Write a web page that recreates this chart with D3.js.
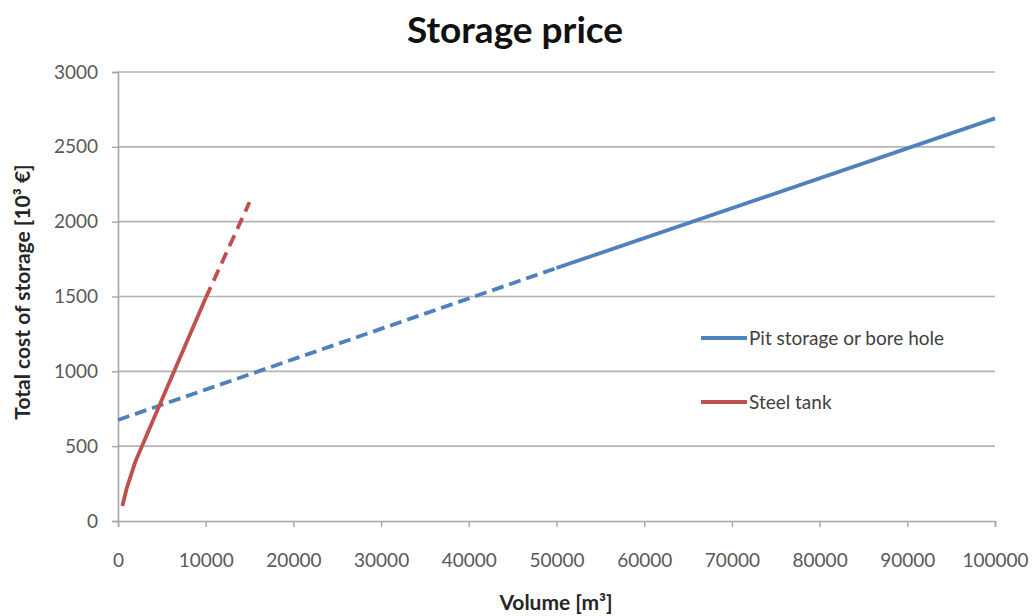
<!DOCTYPE html>
<html>
<head>
<meta charset="utf-8">
<script src="https://cdn.jsdelivr.net/npm/d3@7"></script>
<style>
  html, body { margin: 0; padding: 0; background: #fff; }
  svg { display: block; }
  svg text { font-family: "Lato", "Open Sans", sans-serif; }
</style>
</head>
<body>
<svg id="chart" width="1036" height="616"></svg>
<script>
// Storage cost (10^3 €) against storage volume (m³)
const title = "Storage price";
const xLabel = "Volume [m³]";
const yLabel = "Total cost of storage [10³ €]";

const xTicks = [0, 10000, 20000, 30000, 40000, 50000, 60000, 70000, 80000, 90000, 100000];
const yTicks = [0, 500, 1000, 1500, 2000, 2500, 3000];

const seriesNames = ["Pit storage or bore hole", "Steel tank"];
const seriesColors = ["#4f81bd", "#c0504d"];

// Pit storage / bore hole: estimated range (dashed) then solid
const pitEstimated = [[0, 675], [50000, 1690]];
const pitSolid = [[50000, 1690], [100000, 2690]];

// Steel tank: solid then extrapolated (dashed)
const tankSolid = [[500, 100], [1000, 220], [2000, 400], [5000, 810], [10000, 1490]];
const tankEstimated = [[10000, 1490], [15000, 2130]];

const svg = d3.select("#chart");
const margin = { left: 118, right: 41, top: 72, bottom: 95 };
const W = 1036, H = 616;
const FONT = "Lato, 'Open Sans', sans-serif";

const x = d3.scaleLinear().domain([0, 100000]).range([margin.left, W - margin.right]);
const y = d3.scaleLinear().domain([0, 3000]).range([H - margin.bottom, margin.top]);

// Horizontal gridlines
svg.append("g")
  .selectAll("line")
  .data(yTicks.filter(d => d > 0))
  .join("line")
  .attr("x1", x(0)).attr("x2", x(100000))
  .attr("y1", d => y(d)).attr("y2", d => y(d))
  .attr("stroke", "#b4b4b4").attr("stroke-width", 1.6);

// Y axis
const yAxis = svg.append("g")
  .attr("transform", `translate(${x(0)},0)`)
  .call(d3.axisLeft(y).tickValues(yTicks).tickSize(6).tickPadding(14).tickFormat(d3.format("d")))
  .attr("font-family", FONT);
yAxis.select(".domain").attr("stroke", "#a6a6a6").attr("stroke-width", 1.6);
yAxis.selectAll(".tick line").attr("stroke", "#a6a6a6").attr("stroke-width", 1.4);
yAxis.selectAll(".tick text").attr("fill", "#595959").style("font-size", "19px");

// X axis
const xAxis = svg.append("g")
  .attr("transform", `translate(0,${y(0)})`)
  .call(d3.axisBottom(x).tickValues(xTicks).tickSize(6).tickPadding(27).tickFormat(d3.format("d")))
  .attr("font-family", FONT);
xAxis.select(".domain").attr("stroke", "#a6a6a6").attr("stroke-width", 1.6);
xAxis.selectAll(".tick line").attr("stroke", "#a6a6a6").attr("stroke-width", 1.4);
xAxis.selectAll(".tick text").attr("fill", "#595959").style("font-size", "19px");

// Series lines
const line = d3.line().x(d => x(d[0])).y(d => y(d[1]));

const paths = [
  { data: pitEstimated, color: seriesColors[0], dash: "12,6" },
  { data: pitSolid, color: seriesColors[0], dash: null },
  { data: tankSolid, color: seriesColors[1], dash: null },
  { data: tankEstimated, color: seriesColors[1], dash: "12,7" }
];
svg.append("g")
  .selectAll("path")
  .data(paths)
  .join("path")
  .attr("d", d => line(d.data))
  .attr("fill", "none")
  .attr("stroke", d => d.color)
  .attr("stroke-width", 3.8)
  .attr("stroke-linejoin", "round")
  .attr("stroke-dasharray", d => d.dash);

// Legend
const legend = svg.append("g").attr("transform", "translate(701,338)");
const items = legend.selectAll("g")
  .data(seriesNames)
  .join("g")
  .attr("transform", (d, i) => `translate(0,${i * 64})`);
items.append("line")
  .attr("x1", 0).attr("x2", 46).attr("y1", 0).attr("y2", 0)
  .attr("stroke", (d, i) => seriesColors[i]).attr("stroke-width", 3.8);
items.append("text")
  .attr("x", 48).attr("y", 0).attr("dy", "0.35em")
  .attr("fill", "#404040").style("font-size", "19px")
  .text(d => d);

// Title
svg.append("text")
  .attr("x", 515).attr("y", 43)
  .attr("text-anchor", "middle")
  .attr("fill", "#111").style("font-size", "37px").style("font-weight", "bold")
  .text(title);

// Axis titles
svg.append("text")
  .attr("x", 556).attr("y", 610)
  .attr("text-anchor", "middle")
  .attr("fill", "#262626").style("font-size", "21px").style("font-weight", "bold")
  .text(xLabel);

svg.append("text")
  .attr("transform", "translate(30,292) rotate(-90)")
  .attr("text-anchor", "middle")
  .attr("fill", "#262626").style("font-size", "21px").style("font-weight", "bold")
  .text(yLabel);
</script>
</body>
</html>
